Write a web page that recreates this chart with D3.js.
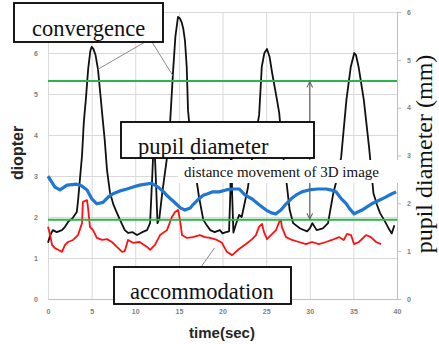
<!DOCTYPE html>
<html>
<head>
<meta charset="utf-8">
<script src="https://cdn.jsdelivr.net/npm/d3@7"></script>
<style>
  body { margin: 0; background: #fff; }
  svg { display: block; }
</style>
</head>
<body>
<div id="wrapper"></div>
<script>
// data
const xTicks = [0, 5, 10, 15, 20, 25, 30, 35, 40]
const leftTicks = [0, 1, 2, 3, 4, 5, 6, 7]
const rightTicks = [0, 1, 2, 3, 4, 5, 6]

// convergence, diopter (left axis)
const convergence = [
  [0, 1.37], [0.25, 1.55], [0.55, 1.68], [1.0, 1.63], [1.6, 1.68], [1.95, 1.76], [2.3, 1.88],
  [2.85, 1.98], [3.3, 2.12], [3.45, 2.41], [3.67, 2.95], [3.9, 3.5], [4.1, 4.3], [4.35, 4.9],
  [4.6, 5.6], [4.85, 6.05], [5.0, 6.15], [5.2, 6.1], [5.45, 5.95], [5.73, 5.6], [6.0, 5.0],
  [6.2, 4.54], [6.5, 3.88], [6.76, 3.15], [7.1, 2.6], [7.5, 2.3], [7.9, 2.1], [8.25, 1.93],
  [8.8, 1.68], [9.2, 1.61], [9.7, 1.63], [10.2, 1.56], [10.8, 1.63], [11.35, 1.68], [11.7, 1.85],
  [11.95, 3.0], [12.15, 4.0], [12.35, 3.0], [12.55, 1.85], [12.75, 1.95], [13.1, 2.6], [13.6, 3.39],
  [14.0, 4.32], [14.33, 5.54], [14.6, 6.4], [14.9, 6.88], [15.1, 6.85], [15.3, 6.76], [15.5, 6.6],
  [15.7, 6.3], [15.9, 5.66], [16.05, 4.6], [16.4, 3.8], [16.85, 3.15], [17.3, 2.5], [17.8, 1.93],
  [18.2, 1.8], [18.6, 1.68], [19.1, 1.63], [19.7, 1.68], [20.0, 1.6], [20.4, 1.63], [20.75, 1.65],
  [20.9, 2.6], [21.0, 4.0], [21.1, 2.6], [21.25, 1.62], [21.5, 1.8], [21.9, 2.05], [22.2, 2.0],
  [22.5, 2.3], [22.9, 2.7], [23.3, 3.3], [23.8, 4.0], [24.2, 4.49], [24.5, 5.66], [24.8, 6.0],
  [25.1, 6.1], [25.4, 5.9], [25.7, 5.5], [26.25, 4.85], [26.5, 4.54], [26.9, 3.6], [27.4, 2.73],
  [27.7, 2.17], [28.1, 1.85], [28.9, 1.72], [29.7, 1.65], [30.0, 1.72], [30.3, 1.85], [30.8, 1.68],
  [31.5, 1.72], [32.1, 1.85], [32.3, 2.1], [32.7, 2.58], [33.2, 3.0], [33.6, 3.46], [34.2, 4.85],
  [34.7, 5.66], [35.1, 6.0], [35.3, 5.95], [35.6, 5.66], [36.2, 4.85], [36.8, 3.7], [37.3, 2.58],
  [37.7, 2.3], [38.05, 2.1], [38.6, 1.9], [39.1, 1.7], [39.4, 1.6], [39.7, 1.8],
]

// pupil diameter, mm (right axis)
const pupil = [
  [0, 2.57], [0.23, 2.5], [0.8, 2.34], [1.38, 2.28], [2.18, 2.38], [3.3, 2.4], [3.9, 2.36],
  [4.47, 2.28], [5.0, 2.1], [5.6, 1.99], [6.3, 2.02], [6.9, 2.13], [7.45, 2.2], [8.25, 2.26],
  [9.05, 2.3], [9.75, 2.34], [10.5, 2.38], [11.2, 2.4], [11.9, 2.42], [12.6, 2.34], [13.2, 2.25],
  [13.6, 2.17], [14.2, 2.07], [14.8, 1.97], [15.2, 1.9], [15.7, 1.86], [16.3, 1.9], [16.6, 1.97],
  [17.2, 2.08], [17.8, 2.17], [18.3, 2.2], [18.9, 2.24], [19.6, 2.24], [20.4, 2.28], [21.1, 2.3],
  [21.9, 2.3], [22.6, 2.17], [23.4, 2.09], [24.2, 1.97], [25.0, 1.86], [25.6, 1.8], [26.1, 1.78],
  [26.7, 1.86], [27.3, 1.99], [27.9, 2.1], [28.4, 2.17], [29.1, 2.24], [29.9, 2.28], [30.9, 2.3],
  [31.9, 2.3], [32.6, 2.27], [33.0, 2.24], [33.6, 2.1], [34.2, 1.99], [34.6, 1.88], [35.1, 1.78],
  [35.5, 1.82], [36.0, 1.86], [36.6, 1.93], [37.1, 1.99], [37.9, 2.06], [38.7, 2.13], [39.3, 2.19],
  [39.9, 2.24],
]

// accommodation, diopter (left axis)
const accommodation = [
  [0, 1.76], [0.23, 1.58], [0.46, 1.32], [0.8, 1.24], [1.15, 1.2], [1.6, 1.15], [1.95, 1.32],
  [2.3, 1.39], [2.87, 1.44], [3.44, 1.56], [3.9, 1.85], [4.0, 2.37], [4.47, 2.41], [4.58, 2.24],
  [4.81, 1.76], [5.16, 1.68], [5.6, 1.49], [6.2, 1.44], [6.76, 1.46], [7.33, 1.39], [7.9, 1.27],
  [8.5, 1.15], [8.8, 1.17], [9.17, 1.44], [9.74, 1.37], [10.5, 1.39], [11.35, 1.27], [11.7, 1.2],
  [12.26, 1.32], [12.84, 1.56], [13.64, 1.68], [14.2, 2.0], [14.56, 2.12], [14.9, 2.17],
  [15.13, 1.93], [15.36, 1.56], [15.93, 1.49], [16.6, 1.51], [17.4, 1.56], [18.0, 1.51],
  [18.57, 1.49], [19.37, 1.44], [19.94, 1.37], [20.5, 1.15], [21.1, 1.07], [21.9, 1.22],
  [22.7, 1.34], [23.4, 1.46], [23.84, 1.56], [24.18, 1.76], [24.53, 1.83], [24.76, 1.63],
  [25.1, 1.46], [25.56, 1.56], [26.13, 1.68], [26.5, 1.88], [26.7, 1.93], [26.8, 1.76],
  [27.28, 1.51], [27.97, 1.44], [28.77, 1.39], [29.57, 1.34], [30.26, 1.39], [31.06, 1.34],
  [31.86, 1.39], [32.55, 1.44], [33.35, 1.51], [33.9, 1.44], [34.27, 1.59], [34.73, 1.56],
  [35.07, 1.34], [35.64, 1.39], [36.45, 1.56], [37.0, 1.51], [37.6, 1.39], [38.17, 1.34],
]

// green reference levels, diopter
const greenLevels = [5.32, 1.93]
// distance movement arrow: time, from/to diopter
const arrowTime = 30
const arrowRange = [5.3, 1.95]

// dimensions
const dimensions = {
  width: 439,
  height: 344,
  margins: { top: 12, right: 42, bottom: 45, left: 48 },
}
dimensions.boundedWidth = dimensions.width - dimensions.margins.left - dimensions.margins.right
dimensions.boundedHeight = dimensions.height - dimensions.margins.top - dimensions.margins.bottom

const svg = d3.select("#wrapper").append("svg")
  .attr("width", dimensions.width)
  .attr("height", dimensions.height)

svg.append("defs").append("marker")
  .attr("id", "arrowhead")
  .attr("viewBox", "0 0 10 10")
  .attr("refX", 9).attr("refY", 5)
  .attr("markerWidth", 6).attr("markerHeight", 6)
  .attr("orient", "auto-start-reverse")
  .append("path")
  .attr("d", "M1,1 L9,5 L1,9")
  .attr("fill", "none")
  .attr("stroke", "#666")
  .attr("stroke-width", 1.4)

const bounds = svg.append("g")
  .attr("transform", `translate(${dimensions.margins.left},${dimensions.margins.top})`)

// scales
const xScale = d3.scaleLinear().domain([0, 40]).range([0, dimensions.boundedWidth])
const yLeft = d3.scaleLinear().domain([0, 7]).range([dimensions.boundedHeight, 0])
const yRight = d3.scaleLinear().domain([0, 6]).range([dimensions.boundedHeight, 0])

// gridlines
bounds.append("g")
  .call(d3.axisLeft(yLeft).tickValues(leftTicks).tickSize(-dimensions.boundedWidth).tickFormat(""))
  .call((g) => g.select(".domain").remove())
  .selectAll("line").attr("stroke", "#d9d9d9")

bounds.append("g")
  .attr("transform", `translate(0,${dimensions.boundedHeight})`)
  .call(d3.axisBottom(xScale).tickValues(xTicks).tickSize(-dimensions.boundedHeight).tickFormat(""))
  .call((g) => g.select(".domain").remove())
  .selectAll("line").attr("stroke", "#d9d9d9")

// axes
const intFormat = d3.format("d")
const tickFont = (g) => g.selectAll("text")
  .attr("fill", "#7f7f7f")
  .style("font-family", "'Liberation Sans', Arial, sans-serif")
  .style("font-size", "7px")
  .style("font-weight", "bold")

bounds.append("g")
  .call(d3.axisLeft(yLeft).tickValues(leftTicks).tickFormat(intFormat).tickSize(0).tickPadding(10))
  .call((g) => g.select(".domain").remove())
  .call(tickFont)

bounds.append("g")
  .attr("transform", `translate(0,${dimensions.boundedHeight})`)
  .call(d3.axisBottom(xScale).tickValues(xTicks).tickFormat(intFormat).tickSize(0).tickPadding(10))
  .call((g) => g.select(".domain").attr("stroke", "#bfbfbf"))
  .call(tickFont)

bounds.append("g")
  .attr("transform", `translate(${dimensions.boundedWidth},0)`)
  .call(d3.axisRight(yRight).tickValues(rightTicks).tickFormat(intFormat).tickSize(4).tickPadding(6))
  .call((g) => g.selectAll(".domain, line").attr("stroke", "#bfbfbf"))
  .call(tickFont)

// series
const line = (yScale) => d3.line()
  .x((d) => xScale(d[0]))
  .y((d) => yScale(d[1]))

bounds.append("path")
  .attr("d", line(yLeft)(convergence))
  .attr("fill", "none").attr("stroke", "#111").attr("stroke-width", 1.8)
  .attr("stroke-linejoin", "round")

bounds.append("path")
  .attr("d", line(yRight)(pupil))
  .attr("fill", "none").attr("stroke", "#1f77d2").attr("stroke-width", 3.2)
  .attr("stroke-linejoin", "round")

bounds.append("path")
  .attr("d", line(yLeft)(accommodation))
  .attr("fill", "none").attr("stroke", "#ff1010").attr("stroke-width", 1.8)
  .attr("stroke-linejoin", "round")

bounds.selectAll(".green")
  .data(greenLevels)
  .join("line")
  .attr("x1", 0).attr("x2", dimensions.boundedWidth)
  .attr("y1", (d) => yLeft(d)).attr("y2", (d) => yLeft(d))
  .attr("stroke", "#2db34d").attr("stroke-width", 2)

// distance arrow
bounds.append("line")
  .attr("x1", xScale(arrowTime)).attr("x2", xScale(arrowTime))
  .attr("y1", yLeft(arrowRange[0])).attr("y2", yLeft(arrowRange[1]))
  .attr("stroke", "#666").attr("stroke-width", 1.2)
  .attr("marker-start", "url(#arrowhead)")
  .attr("marker-end", "url(#arrowhead)")

// leader lines (in data coordinates)
const leaders = [
  { from: [145, 42], to: [5.7, 5.6] },
  { from: [152, 42], to: [14.3, 5.45] },
  { from: [201, 267], to: [19.1, 1.25] },
]
svg.selectAll(".leader")
  .data(leaders)
  .join("line")
  .attr("x1", (d) => d.from[0]).attr("y1", (d) => d.from[1])
  .attr("x2", (d) => xScale(d.to[0]) + dimensions.margins.left)
  .attr("y2", (d) => yLeft(d.to[1]) + dimensions.margins.top)
  .attr("stroke", "#8c8c8c").attr("stroke-width", 1)

// white band behind the distance text
svg.append("rect")
  .attr("x", 178).attr("y", 160).attr("width", 224).attr("height", 23)
  .attr("fill", "#fff")

svg.append("text")
  .attr("x", 184).attr("y", 177)
  .style("font-family", "'Liberation Serif', 'Times New Roman', serif")
  .style("font-size", "15px")
  .attr("fill", "#111")
  .text("distance movement of 3D image")

// label boxes
const labelBoxes = [
  { text: "convergence", x: 14, y: 3, w: 149, h: 39, tx: 32, ty: 36 },
  { text: "pupil diameter", x: 121, y: 122, w: 193, h: 36, tx: 138, ty: 154 },
  { text: "accommodation", x: 114, y: 267, w: 177, h: 37, tx: 130, ty: 299 },
]
const boxG = svg.selectAll(".label-box")
  .data(labelBoxes)
  .join("g")

boxG.append("rect")
  .attr("x", (d) => d.x).attr("y", (d) => d.y)
  .attr("width", (d) => d.w).attr("height", (d) => d.h)
  .attr("fill", "#fff").attr("stroke", "#000").attr("stroke-width", 1.8)

boxG.append("text")
  .attr("x", (d) => d.tx).attr("y", (d) => d.ty)
  .style("font-family", "'Liberation Serif', 'Times New Roman', serif")
  .style("font-size", "22.5px")
  .attr("fill", "#111")
  .text((d) => d.text)

// axis titles
svg.append("text")
  .attr("transform", "translate(23,153) rotate(-90)")
  .attr("text-anchor", "middle")
  .style("font-family", "'Liberation Sans', Arial, sans-serif")
  .style("font-size", "16px").style("font-weight", "bold")
  .attr("fill", "#262626")
  .text("diopter")

svg.append("text")
  .attr("x", 222).attr("y", 338)
  .attr("text-anchor", "middle")
  .style("font-family", "'Liberation Sans', Arial, sans-serif")
  .style("font-size", "15px").style("font-weight", "bold")
  .attr("fill", "#262626")
  .text("time(sec)")

svg.append("text")
  .attr("transform", "translate(432,154) rotate(-90)")
  .attr("text-anchor", "middle")
  .style("font-family", "'Liberation Serif', 'Times New Roman', serif")
  .style("font-size", "24px")
  .attr("fill", "#111")
  .text("pupil diameter (mm)")
</script>
</body>
</html>
